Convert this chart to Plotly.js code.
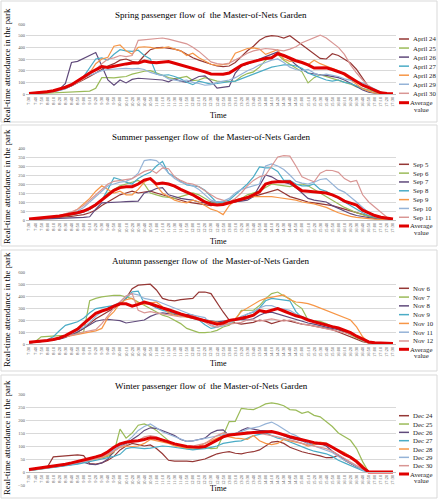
<!DOCTYPE html>
<html><head><meta charset="utf-8">
<script src="https://cdn.plot.ly/plotly-3.0.1.min.js"></script>
<style>html,body{margin:0;padding:0;background:#fff;}#chart{width:438px;height:500px;}</style>
</head><body><div id="chart"></div>
<script>
// ---------- DATA ----------
const times = ["7:30","7:40","7:50","8:00","8:10","8:20","8:30","8:40","8:50","9:00",
"9:10","9:20","9:30","9:40","9:50","10:00","10:10","10:20","10:30","10:40",
"10:50","11:00","11:10","11:20","11:30","11:40","11:50","12:00","12:10","12:20",
"12:30","12:40","12:50","13:00","13:10","13:20","13:30","13:40","13:50","14:00",
"14:10","14:20","14:30","14:40","14:50","15:00","15:10","15:20","15:30","15:40",
"15:50","16:00","16:10","16:20","16:30","16:40","16:50","17:00","17:10","17:20","17:30"];

const springNames = ["April 24","April 25","April 26","April 27","April 28","April 29","April 30"];
const apr24 = [5,8,12,18,25,35,50,70,95,120, 150,180,210,240,260,290,300,280,270,330, 380,395,400,395,385,370,340,310,290,270, 255,240,235,240,270,320,370,410,460,490, 500,495,480,500,460,420,380,340,305,300, 345,330,300,265,210,140,60,20,8,3, 0];
const apr25 = [0,2,4,6,8,10,12,15,18,20, 25,50,140,140,138,145,150,170,185,195, 200,180,160,140,130,140,150,115,120,140, 125,110,105,105,110,150,175,190,230,290, 320,340,290,255,220,190,95,140,165,150, 130,120,100,85,60,45,35,25,12,5, 0];
const apr26 = [5,8,12,18,25,40,90,270,280,305, 330,355,240,120,75,120,95,125,135,130, 130,125,120,105,130,110,100,125,150,155, 110,50,60,65,180,240,255,280,300,320, 340,360,330,300,250,210,180,170,165,160, 150,140,120,95,65,35,15,8,4,2, 0];
const apr27 = [3,6,10,15,22,30,45,70,100,150, 220,300,310,290,340,380,370,365,375,330, 300,170,160,165,150,130,100,80,110,95, 85,90,100,105,110,130,150,170,190,210, 230,240,250,250,240,220,180,160,140,120, 110,120,100,90,70,45,25,12,5,2, 0];
const apr28 = [5,10,15,22,30,40,55,75,100,130, 180,260,300,315,410,420,370,340,400,405, 400,390,395,405,385,370,330,350,310,280, 255,245,250,260,350,370,390,395,385,340, 360,380,300,280,285,270,250,290,260,240, 220,200,160,120,80,45,25,10,4,2, 0];
const apr29 = [2,5,8,12,20,30,45,70,100,140, 160,175,200,210,215,215,220,215,220,210, 185,170,160,130,120,110,120,100,90,75, 80,100,110,120,140,170,200,220,250,270, 290,300,270,230,210,200,210,180,160,170, 160,150,130,120,110,95,70,40,15,5, 0];
const apr30 = [5,10,15,22,30,45,60,80,100,130, 170,210,260,300,310,330,320,330,460,465, 470,475,480,470,455,440,430,400,365,320, 275,260,255,265,290,320,350,370,380,390, 385,380,370,385,405,440,460,480,505,480, 440,400,340,250,180,120,70,30,10,4, 0];
const springAvg = [5,8,14,20,28,40,58,80,110,145, 180,210,235,228,240,250,258,265,265,283, 272,268,270,278,264,250,236,222,205,190, 172,168,170,180,215,245,265,280,295,305, 310,345,330,305,285,270,250,222,226,225, 210,190,172,140,110,75,55,30,10,4, 2];

const summerNames = ["Sep 5","Sep 6","Sep 7","Sep 8","Sep 9","Sep 10","Sep 11"];
const sep5 = [3,5,8,10,12,15,18,20,25,30, 40,55,80,100,120,140,150,160,150,155, 160,150,140,130,120,110,100,95,90,85, 80,85,90,95,100,110,120,130,140,150, 160,170,150,130,120,110,100,95,90,85, 80,70,60,50,40,30,20,12,6,3, 0];
const sep6 = [2,5,8,10,14,18,22,28,35,45, 60,80,110,150,170,190,200,210,220,200, 150,140,130,125,120,130,140,150,140,120, 100,90,95,100,110,120,140,150,160,180, 200,195,190,185,195,200,190,170,150,130, 110,90,70,55,40,30,20,12,6,3, 0];
const sep7 = [2,3,4,5,6,7,8,10,12,15, 18,60,95,98,100,100,102,105,105,150, 160,175,180,140,130,120,115,110,100,95, 100,100,100,100,102,105,110,130,190,250, 240,220,210,200,180,150,120,110,105,100, 80,65,50,35,25,18,12,8,5,2, 0];
const sep8 = [5,8,10,13,16,20,25,30,35,45, 60,80,110,170,235,225,210,200,230,250, 265,300,325,260,240,215,195,190,185,165, 130,95,100,110,140,170,200,240,295,290, 290,270,220,220,200,190,190,200,170,160, 140,120,100,80,60,40,25,15,8,3, 0];
const sep9 = [5,8,10,14,18,22,30,40,60,90, 120,160,190,170,150,160,140,140,170,210, 230,190,150,130,110,100,95,110,100,80, 60,50,30,80,110,120,125,130,130,130, 130,125,120,115,110,100,95,90,80,70, 55,40,30,20,15,10,8,5,3,2, 0];
const sep10 = [3,6,9,12,15,20,25,35,50,70, 100,130,160,190,200,210,215,230,260,330, 335,330,300,260,230,210,200,190,170,140, 110,100,105,120,150,170,180,190,200,300, 312,300,280,250,215,205,200,210,225,230, 200,170,155,130,100,70,40,20,10,4, 0];
const sep11 = [5,8,12,15,20,25,35,45,60,80, 110,140,170,200,215,220,225,230,250,270, 280,260,290,285,240,220,205,200,185,160, 140,120,110,100,120,150,190,220,240,250, 300,350,358,355,300,240,225,212,260,276, 275,265,230,212,220,140,100,70,40,15, 3];
const summerAvg = [5,8,12,14,18,22,28,33,40,50, 65,85,110,140,165,180,185,185,200,222, 230,200,206,200,188,170,157,140,120,100, 88,84,86,95,108,115,125,140,157,200, 210,212,213,212,185,162,160,157,153,150, 140,125,105,92,83,55,38,25,15,10, 5];

const autumnNames = ["Nov 6","Nov 7","Nov 8","Nov 9","Nov 10","Nov 11","Nov 12"];
const nov6 = [10,15,20,25,35,45,60,75,100,130, 170,210,240,270,300,330,380,460,490,497, 498,450,380,365,360,370,372,380,432,433, 420,340,267,200,175,165,170,180,200,190, 170,185,200,190,175,165,160,150,140,130, 120,100,80,60,40,20,10,8,6,5, 5];
const nov7 = [10,20,60,65,68,70,72,80,90,100, 360,380,392,400,406,406,395,378,350,322, 290,267,240,225,200,170,130,110,95,95, 100,114,142,156,200,280,280,282,320,378, 420,433,400,378,330,295,200,195,189,170, 142,120,100,78,50,25,10,8,6,5, 5];
const nov8 = [10,15,20,25,30,40,55,75,100,130, 160,190,200,205,200,195,175,185,190,200, 230,250,260,255,250,240,245,240,210,200, 190,185,190,195,200,205,200,210,240,260, 265,250,235,220,205,185,175,165,150,140, 130,120,100,85,65,45,20,10,7,5, 5];
const nov9 = [10,15,20,35,60,110,155,170,185,215, 260,295,305,315,320,330,380,435,440,340, 330,300,280,270,255,240,225,215,200,160, 130,140,160,190,200,215,250,265,300,360, 380,375,370,360,270,220,200,190,175,160, 150,135,115,90,60,35,15,10,6,5, 5];
const nov10 = [10,15,22,30,40,50,60,70,80,90, 100,110,130,220,270,340,370,380,340,330, 340,350,310,260,240,230,225,215,210,200, 190,180,170,175,210,270,300,330,360,380, 390,405,410,370,350,345,336,320,300,285, 262,245,225,200,142,60,12,8,6,5, 5];
const nov11 = [10,15,20,28,38,50,65,85,110,140, 180,230,270,300,320,350,400,420,410,380, 370,360,340,320,300,280,260,240,230,220, 160,140,150,170,200,230,250,270,300,320, 320,300,290,280,250,230,210,190,170,150, 140,130,115,90,60,30,12,8,6,5, 5];
const nov12 = [10,15,22,30,40,50,60,70,85,100, 110,120,170,240,300,350,400,420,280,260, 270,260,250,240,230,225,230,235,215,180, 150,140,160,165,170,180,200,200,190,200, 210,200,190,200,180,165,160,150,140,125, 115,105,95,80,60,35,15,8,6,5, 5];
const autumnAvg = [15,18,22,30,38,50,70,95,125,170, 215,255,275,290,315,335,335,315,330,350, 335,315,300,285,265,250,235,222,210,195, 180,165,175,197,205,212,225,240,278,268, 282,295,275,253,235,222,200,185,170,156, 145,133,115,95,65,40,17,10,7,5, 5];

const winterNames = ["Dec 24","Dec 25","Dec 26","Dec 27","Dec 28","Dec 29","Dec 30"];
const dec24 = [8,12,15,18,58,60,62,64,66,63, 32,30,35,45,60,85,100,110,105,100, 104,90,70,45,42,43,42,40,45,50, 60,70,75,78,72,70,75,78,85,100, 115,118,110,95,85,78,72,68,62,55, 55,65,45,33,20,8,0,0,0,0, 0];
const dec25 = [5,8,12,15,18,22,26,30,35,40, 45,50,55,60,75,165,130,150,180,185, 175,160,140,120,105,95,90,88,90,95, 90,92,140,194,195,245,242,240,250,262, 266,262,255,240,238,226,232,218,212,195, 175,150,135,122,90,40,0,0,0,0, 0];
const dec26 = [10,12,15,18,20,22,25,28,32,38, 30,28,35,50,80,100,110,125,140,160, 170,168,160,150,140,125,118,120,125,130, 150,160,162,140,145,160,170,165,160,158, 155,150,140,130,125,120,110,105,110,100, 80,65,50,35,20,10,0,0,0,0, 0];
const dec27 = [5,8,12,15,18,20,22,25,30,35, 40,45,50,55,60,68,90,95,92,90, 92,95,100,98,95,92,88,85,88,90, 95,100,110,115,118,120,130,140,145,150, 140,130,125,115,105,95,88,80,75,70, 60,45,35,25,15,5,0,0,0,0, 0];
const dec28 = [8,10,14,17,20,24,28,32,36,40, 45,50,55,65,80,95,100,98,100,110, 125,120,115,110,100,95,92,95,100,110, 120,130,140,135,130,128,125,140,120,110, 105,110,125,120,115,110,100,105,115,110, 95,85,75,60,45,25,0,0,0,0, 0];
const dec29 = [6,9,12,15,18,22,26,30,34,40, 45,52,60,70,85,100,115,135,160,175, 185,170,155,145,135,125,118,120,125,130, 135,140,145,148,150,155,165,170,175,185, 192,180,165,150,140,125,110,100,92,85, 75,60,45,35,20,8,0,0,0,0, 0];
const dec30 = [8,10,13,16,20,24,28,32,36,40, 45,50,58,68,80,95,105,115,120,135, 140,135,125,115,105,100,98,100,105,110, 125,140,150,145,148,150,155,150,148,145, 140,135,130,125,118,110,105,100,95,90, 80,65,50,38,25,12,0,0,0,0, 0];
const winterAvg = [10,13,16,20,23,26,30,35,40,46, 52,58,65,78,95,108,115,118,120,125, 132,130,124,116,108,102,98,96,95,98, 110,125,135,142,145,148,150,152,153,155, 156,150,142,136,130,124,118,113,110,108, 95,80,68,57,40,18,0,0,0,0, 0];

const seriesColors = ["#953735","#9BBB59","#604A7B","#4BACC6","#F79646","#95B3D7","#D99694"];
const avgColor = "#E00000";
const avgName = "Average value";

// ---------- LAYOUT CONFIG ----------
const W = 438, H = 500;
const px = x => x / W;
const py = y => 1 - y / H;
const SERIF = "Liberation Serif, Times New Roman, serif";

const panels = [
  {title:"Spring passenger flow of  the Master-of-Nets Garden", names:springNames,
   series:[apr24,apr25,apr26,apr27,apr28,apr29,apr30], avg:springAvg,
   range:[0,600], dtick:100, top:24, bot:94, box:[1,122], titleY:15, ytY:66, timeY:116,
   legY0:39, legStep:9.05, avgY:102.7, valY:109.3},
  {title:"Summer passenger flow of  the Master-of-Nets Garden", names:summerNames,
   series:[sep5,sep6,sep7,sep8,sep9,sep10,sep11], avg:summerAvg,
   range:[0,400], dtick:50, top:148, bot:220, box:[125,246], titleY:137, ytY:187, timeY:241.5,
   legY0:164.3, legStep:8.83, avgY:226, valY:232.5},
  {title:"Autumn passenger flow of  the Master-of-Nets Garden", names:autumnNames,
   series:[nov6,nov7,nov8,nov9,nov10,nov11,nov12], avg:autumnAvg,
   range:[0,600], dtick:100, top:272, bot:344, box:[250,371], titleY:260.7, ytY:310, timeY:363,
   legY0:288.3, legStep:8.78, avgY:349.3, valY:355.5},
  {title:"Winter passenger flow of  the Master-of-Nets Garden", names:winterNames,
   series:[dec24,dec25,dec26,dec27,dec28,dec29,dec30], avg:winterAvg,
   range:[-50,300], dtick:50, top:394, bot:485, box:[375,498], titleY:385.7, ytY:438, timeY:488.5,
   legY0:415.7, legStep:8.33, avgY:474, valY:480.5, xAxisAt:472}
];

const traces = [];
const layout = {
  width: W, height: H, margin:{l:0,r:0,t:0,b:0},
  paper_bgcolor:"#fff", plot_bgcolor:"rgba(0,0,0,0)",
  showlegend:false, shapes:[], annotations:[],
  font:{family:SERIF, color:"#262626"}
};

panels.forEach((p, k) => {
  const n = k + 1;
  const xs = n === 1 ? "x" : "x" + n, ys = n === 1 ? "y" : "y" + n;
  const xk = n === 1 ? "xaxis" : "xaxis" + n, yk = n === 1 ? "yaxis" : "yaxis" + n;
  p.series.forEach((vals, j) => {
    if (vals.length !== times.length) throw new Error(p.names[j] + " length " + vals.length);
    traces.push({x: times, y: vals, xaxis: xs, yaxis: ys, type:"scatter", mode:"lines",
      name: p.names[j], line:{color: seriesColors[j], width:1.2}, hoverinfo:"skip"});
  });
  if (p.avg.length !== times.length) throw new Error("avg length " + k);
  traces.push({x: times, y: p.avg, xaxis: xs, yaxis: ys, type:"scatter", mode:"lines",
    name: avgName, line:{color: avgColor, width:3}, hoverinfo:"skip"});

  const xa = {domain:[px(26), px(396)], type:"category", range:[-0.5, 60.5],
    tickmode:"linear", tick0:0, dtick:1, tickangle:-90,
    tickfont:{family:SERIF, size:4.5, color:"#404040"},
    showgrid:false, showline:true, linecolor:"#BFBFBF", linewidth:1, ticks:"",
    zeroline:false, fixedrange:true};
  if (p.xAxisAt !== undefined) { xa.anchor = "free"; xa.position = py(p.xAxisAt); }
  else xa.anchor = ys;
  layout[xk] = xa;
  layout[yk] = {domain:[py(p.bot), py(p.top)], anchor: xs, range: p.range,
    tick0: p.range[0], dtick: p.dtick, showgrid:true, gridcolor:"#D9D9D9", gridwidth:1,
    zeroline:false, showline:false, ticks:"",
    tickfont:{family:SERIF, size:4.5, color:"#595959"}, fixedrange:true};

  // panel border
  layout.shapes.push({type:"rect", xref:"paper", yref:"paper", x0:px(1), x1:px(437),
    y0:py(p.box[1]), y1:py(p.box[0]), line:{color:"#D9D9D9", width:1}, layer:"below"});

  // title, axis titles
  layout.annotations.push({text:p.title, xref:"paper", yref:"paper", x:px(211), y:py(p.titleY),
    xanchor:"center", yanchor:"middle", showarrow:false, font:{family:SERIF, size:9, color:"#000"}});
  layout.annotations.push({text:"Real-time attendance in the park", xref:"paper", yref:"paper",
    x:px(7), y:py(p.ytY), xanchor:"center", yanchor:"middle", textangle:-90, showarrow:false,
    font:{family:SERIF, size:8.8, color:"#000"}});
  layout.annotations.push({text:"Time", xref:"paper", yref:"paper", x:px(218), y:py(p.timeY),
    xanchor:"center", yanchor:"middle", showarrow:false, font:{family:SERIF, size:8, color:"#000"}});

  // legend (drawn manually to match the narrow original)
  p.names.forEach((nm, j) => {
    const yy = p.legY0 + j * p.legStep;
    layout.shapes.push({type:"line", xref:"paper", yref:"paper", x0:px(399), x1:px(409),
      y0:py(yy), y1:py(yy), line:{color:seriesColors[j], width:1.5}});
    layout.annotations.push({text:nm, xref:"paper", yref:"paper", x:px(411), y:py(yy),
      xanchor:"left", yanchor:"middle", showarrow:false, font:{family:SERIF, size:6.8, color:"#262626"}});
  });
  layout.shapes.push({type:"line", xref:"paper", yref:"paper", x0:px(399), x1:px(409),
    y0:py(p.avgY), y1:py(p.avgY), line:{color:avgColor, width:3}});
  const parts = avgName.split(" ");
  layout.annotations.push({text:parts[0], xref:"paper", yref:"paper", x:px(421), y:py(p.avgY),
    xanchor:"center", yanchor:"middle", showarrow:false, font:{family:SERIF, size:6.8, color:"#262626"}});
  layout.annotations.push({text:parts[1], xref:"paper", yref:"paper", x:px(421), y:py(p.valY),
    xanchor:"center", yanchor:"middle", showarrow:false, font:{family:SERIF, size:6.8, color:"#262626"}});
});

Plotly.newPlot("chart", traces, layout, {staticPlot:true, displayModeBar:false});
</script>
</body></html>
